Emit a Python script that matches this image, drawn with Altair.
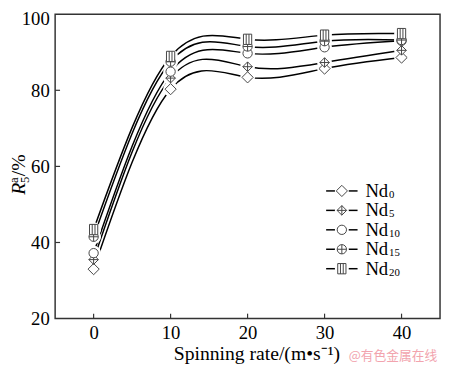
import altair as alt
import pandas as pd

# ---- data ----
speeds = [0, 10, 20, 30, 40]
series = ["Nd0", "Nd5", "Nd10", "Nd15", "Nd20"]
subs = ["0", "5", "10", "15", "20"]
nd0 = [33.0, 80.3, 83.4, 85.7, 88.6]
nd5 = [35.5, 83.2, 86.2, 87.3, 90.5]
nd10 = [37.2, 84.9, 89.7, 91.3, 93.0]
nd15 = [41.5, 87.5, 91.5, 92.9, 93.2]
nd20 = [43.4, 88.9, 93.4, 94.5, 94.9]
x_ticks = [0, 10, 20, 30, 40]
y_ticks = [20, 40, 60, 80, 100]

# ---- styling lookups ----
CIRCLE = "M-1,0A1,1,0,1,1,1,0A1,1,0,1,1,-1,0Z"
paths = {
    "Nd0": "M0,-1L1,0L0,1L-1,0Z",
    "Nd5": "M0,-1L1,0L0,1L-1,0Z M0,-1L0,1 M-1,0L1,0",
    "Nd10": CIRCLE,
    "Nd15": CIRCLE + " M0,-1L0,1 M-1,0L1,0",
    "Nd20": "M-0.8,-1L0.8,-1L0.8,1L-0.8,1Z M-0.27,-1L-0.27,1 M0.27,-1L0.27,1",
}
msizes = {"Nd0": 130, "Nd5": 95, "Nd10": 90, "Nd15": 90, "Nd20": 110}

rows = []
for name, vals in zip(series, [nd0, nd5, nd10, nd15, nd20]):
    for s, v in zip(speeds, vals):
        rows.append({"series": name, "speed": s, "value": v,
                     "path": paths[name], "msize": msizes[name]})
df = pd.DataFrame(rows)

FONT = "Liberation Serif"
TOP = 3
W, H = 392, 310

xenc = alt.X("speed:Q", scale=alt.Scale(domain=[-5, 45], nice=False, zero=False),
             axis=alt.Axis(values=x_ticks, title="Spinning rate/(m•s⁻¹)",
                           titleX=205, titleY=42, titleAlign="center",
                           titleBaseline="alphabetic", labelPadding=5,
                           labelFlush=False))
yenc = alt.Y("value:Q", scale=alt.Scale(domain=[20, 100], nice=False, zero=False),
             axis=alt.Axis(values=y_ticks, title=None, labelPadding=6,
                           labelOffset={"condition": {"test": "datum.value == 100", "value": 4},
                                        "value": 0}))

lines = alt.Chart(df).mark_line(interpolate="natural", color="black",
                                strokeWidth=1.5).encode(x=xenc, y=yenc, detail="series:N")
halo = alt.Chart(df).mark_point(shape=CIRCLE, size=225, filled=True, fill="white",
                                stroke=None, opacity=1).encode(x=xenc, y=yenc)
pts = alt.Chart(df).mark_point(filled=True, fill="white", stroke="#444",
                               strokeWidth=1, opacity=1).encode(
    x=xenc, y=yenc,
    shape=alt.Shape("path:N", scale=None),
    size=alt.Size("msize:Q", scale=None))

# inward ticks
xt = alt.Chart(pd.DataFrame({"t": x_ticks})).mark_rule(color="#333", strokeWidth=1.2).encode(
    x=alt.X("t:Q", scale=alt.Scale(domain=[-5, 45], nice=False, zero=False)),
    y=alt.value(H), y2=alt.value(H - 5))
yt = alt.Chart(pd.DataFrame({"t": y_ticks[1:-1]})).mark_rule(color="#333", strokeWidth=1.2).encode(
    y=alt.Y("t:Q", scale=alt.Scale(domain=[20, 100], nice=False, zero=False)),
    x=alt.value(0), x2=alt.value(5))

# manual legend
leg = pd.DataFrame({"series": series, "sub": subs,
                    "path": [paths[s] for s in series],
                    "msize": [msizes[s] for s in series]})
leg["ly"] = [180 + 19.8 * i for i in range(len(series))]
leg["nd"] = "Nd"
ly = alt.Y("ly:Q", scale=None)
leg_line = alt.Chart(leg).mark_rule(color="black", strokeWidth=1.5).encode(
    y=ly, x=alt.value(276), x2=alt.value(308))
leg_halo = alt.Chart(leg).mark_point(shape=CIRCLE, size=200, filled=True, fill="white",
                                     stroke=None, opacity=1).encode(y=ly, x=alt.value(292))
leg_pts = alt.Chart(leg).mark_point(filled=True, fill="white", stroke="#444",
                                    strokeWidth=1, opacity=1).encode(
    y=ly, x=alt.value(292), shape=alt.Shape("path:N", scale=None),
    size=alt.Size("msize:Q", scale=None))
leg_txt = alt.Chart(leg).mark_text(font=FONT, fontSize=19, align="left",
                                   baseline="middle", color="black").encode(
    y=ly, x=alt.value(316), text="nd:N")
leg_sub = alt.Chart(leg).mark_text(font=FONT, fontSize=11, align="left",
                                   baseline="middle", color="black", dy=4).encode(
    y=ly, x=alt.value(340), text="sub:N")

# y-axis title pieces: R (italic), superscript a, subscript 5, "/%"
yt_parts = pd.DataFrame({"txt": ["R", "a", "5", "/%"]})


def ypart(i, x, y, size, style="normal"):
    return alt.Chart(yt_parts.iloc[[i]]).mark_text(
        font=FONT, fontSize=size, fontStyle=style, angle=270, align="left",
        baseline="alphabetic", color="black").encode(
        x=alt.value(x), y=alt.value(y), text="txt:N")


ytitle = ypart(0, -31, 184, 20, "italic") + ypart(1, -38, 172, 13) + \
    ypart(2, -27, 172, 13) + ypart(3, -31, 165, 20)

wm = alt.Chart(pd.DataFrame({"w": ["@有色金属在线"]})).mark_text(
    font="Noto Sans CJK SC", fontSize=13, align="left", baseline="middle",
    color="#f2a4ae").encode(x=alt.value(299), y=alt.value(348), text="w:N")

chart = alt.layer(lines, halo, pts, xt, yt, leg_line, leg_halo, leg_pts,
                  leg_txt, leg_sub, ytitle, wm).properties(
    width=W, height=H,
    autosize=alt.AutoSizeParams(type="none"),
    padding={"left": 48, "top": TOP, "right": 2, "bottom": 46},
    background="white",
).configure_view(stroke="#333", strokeWidth=1.5).configure_axis(
    labelFont=FONT, labelFontSize=19, labelColor="black",
    titleFont=FONT, titleFontSize=20, titleColor="black", titleFontWeight="normal",
    ticks=False, tickSize=0, domain=False, grid=False,
)

chart.save("out.html", embed_options={"renderer": "svg", "actions": False})
